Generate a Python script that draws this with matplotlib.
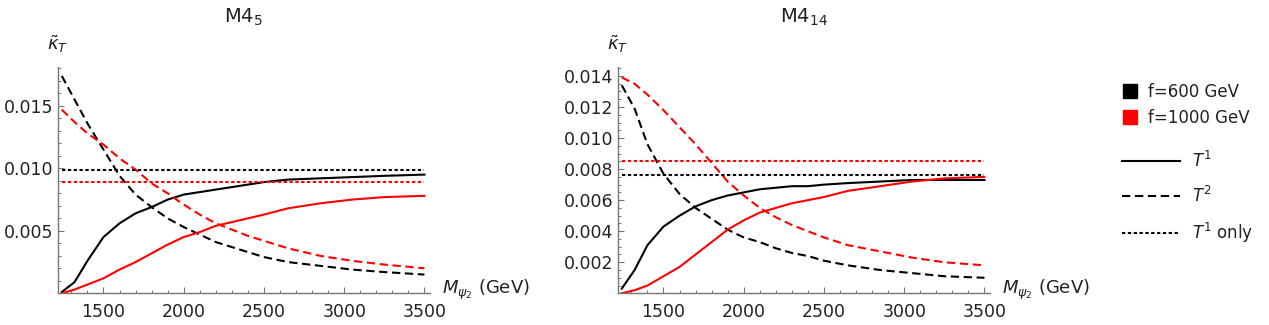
"""
kappa_T tilde vs M_psi2 for the M4_5 and M4_14 models
"""
import matplotlib
matplotlib.use("Agg")
import matplotlib.pyplot as plt
from matplotlib.lines import Line2D
from matplotlib.ticker import MultipleLocator

plt.rcParams['font.family'] = ['DejaVu Sans']
plt.rcParams['mathtext.fontset'] = 'dejavusans'

# mass grid (GeV), shared by both panels
mass = [1240, 1320, 1400, 1500, 1600, 1700, 1800, 1900, 2000, 2100, 2200,
        2300, 2400, 2500, 2650, 2850, 3050, 3250, 3500]

# M4_5 panel
m45_t1_f600 = [0.0001, 0.0009, 0.0026, 0.0045, 0.0056, 0.0064, 0.0069, 0.0075, 0.0079, 0.0081,
               0.0083, 0.0085, 0.0087, 0.0089, 0.0091, 0.0092, 0.0093, 0.0094, 0.0095]
m45_t2_f600 = [0.0174, 0.0155, 0.0136, 0.0115, 0.0094, 0.0079, 0.0069, 0.0060, 0.0053, 0.0047,
               0.0041, 0.0037, 0.0033, 0.0029, 0.0025, 0.0022, 0.0019, 0.0017, 0.0015]
m45_t1_f1000 = [0.0000, 0.0003, 0.0007, 0.0012, 0.0019, 0.0025, 0.0032, 0.0039, 0.0045, 0.0049,
                0.0054, 0.0057, 0.0060, 0.0063, 0.0068, 0.0072, 0.0075, 0.0077, 0.0078]
m45_t2_f1000 = [0.0147, 0.0137, 0.0128, 0.0119, 0.0108, 0.0099, 0.0088, 0.0080, 0.0071, 0.0063,
                0.0056, 0.0051, 0.0046, 0.0042, 0.0036, 0.0030, 0.0026, 0.0023, 0.0020]
m45_only_f600 = 0.0099
m45_only_f1000 = 0.0089

# M4_14 panel
m414_t1_f600 = [0.0003, 0.0015, 0.0031, 0.0043, 0.0050, 0.0056, 0.0060, 0.0063, 0.0065, 0.0067,
                0.0068, 0.0069, 0.0069, 0.0070, 0.0071, 0.0072, 0.0073, 0.0073, 0.0073]
m414_t2_f600 = [0.0134, 0.0119, 0.0096, 0.0077, 0.0064, 0.0055, 0.0048, 0.0041, 0.0036, 0.0033,
                0.0029, 0.0026, 0.0024, 0.0021, 0.0018, 0.0015, 0.0013, 0.0011, 0.0010]
m414_t1_f1000 = [0.0000, 0.0002, 0.0005, 0.0011, 0.0017, 0.0025, 0.0033, 0.0041, 0.0047, 0.0052,
                 0.0055, 0.0058, 0.0060, 0.0062, 0.0066, 0.0069, 0.0072, 0.0074, 0.0075]
m414_t2_f1000 = [0.0139, 0.0135, 0.0128, 0.0118, 0.0107, 0.0096, 0.0084, 0.0072, 0.0063, 0.0055,
                 0.0049, 0.0044, 0.0040, 0.0036, 0.0031, 0.0027, 0.0023, 0.0020, 0.0018]
m414_only_f600 = 0.0076
m414_only_f1000 = 0.0085

x_ticks = [1500, 2000, 2500, 3000, 3500]
m45_yticks = [0.005, 0.010, 0.015]
m414_yticks = [0.002, 0.004, 0.006, 0.008, 0.010, 0.012, 0.014]

RED = '#ff0000'
AXC = '#777777'
TXT = '#222222'
SOLID = '-'
DASH = (0, (4, 2.2))
DOT = (0, (1.6, 1.2))
LW = 1.5

fig = plt.figure(figsize=(12.69, 3.25), dpi=100)
ax1 = fig.add_axes([0.0455, 0.0975, 0.2934, 0.696])
ax2 = fig.add_axes([0.4868, 0.0975, 0.2934, 0.696])


def panel(ax, t1a, t2a, t1b, t2b, onlya, onlyb, yticks, ymax, ymin_step, title):
    ax.plot(mass, t1a, color='black', ls=SOLID, lw=LW)
    ax.plot(mass, t2a, color='black', ls=DASH, lw=LW)
    ax.plot(mass, t1b, color=RED, ls=SOLID, lw=LW)
    ax.plot(mass, t2b, color=RED, ls=DASH, lw=LW)
    ax.hlines(onlya, mass[0], mass[-1], color='black', ls=DOT, lw=LW)
    ax.hlines(onlyb, mass[0], mass[-1], color=RED, ls=DOT, lw=LW)

    ax.set_xlim(1215, 3535)
    ax.set_ylim(0, ymax)
    ax.set_xticks(x_ticks)
    ax.set_yticks(yticks)
    ax.set_yticklabels(['%.3f' % v for v in yticks])
    ax.xaxis.set_minor_locator(MultipleLocator(100))
    ax.yaxis.set_minor_locator(MultipleLocator(ymin_step))
    for s in ['top', 'right']:
        ax.spines[s].set_visible(False)
    for s in ['left', 'bottom']:
        ax.spines[s].set_color(AXC)
        ax.spines[s].set_linewidth(1.0)
    ax.tick_params(which='both', direction='in', color=AXC, labelcolor=TXT,
                   labelsize=12.5)
    ax.tick_params(which='major', length=4.5, width=0.8)
    ax.tick_params(which='minor', length=2.5, width=0.7)
    ax.tick_params(axis='x', pad=7)
    ax.tick_params(axis='y', pad=3)

    ax.text(0.5, 1.22, title, transform=ax.transAxes, ha='center', va='center',
            fontsize=14, color=TXT)
    ax.text(0.0, 1.10, r'$\tilde{\kappa}_T$', transform=ax.transAxes, ha='center',
            va='center', fontsize=13, color=TXT)
    ax.annotate(r'$M_{\psi_2}$ (GeV)', xy=(1.0, 0.0), xycoords='axes fraction',
                xytext=(12, 3), textcoords='offset pixels', ha='left', va='center',
                fontsize=13, color=TXT)


panel(ax1, m45_t1_f600, m45_t2_f600, m45_t1_f1000, m45_t2_f1000,
      m45_only_f600, m45_only_f1000, m45_yticks, 0.0181, 0.001, r'M4$_5$')
panel(ax2, m414_t1_f600, m414_t2_f600, m414_t1_f1000, m414_t2_f1000,
      m414_only_f600, m414_only_f1000, m414_yticks, 0.01457, 0.0005, r'M4$_{14}$')

# legends
color_handles = [Line2D([], [], ls='none', marker='s', markersize=10, color='black'),
                 Line2D([], [], ls='none', marker='s', markersize=10, color=RED)]
leg1 = fig.legend(color_handles, ['f=600 GeV', 'f=1000 GeV'], loc='upper left',
                  bbox_to_anchor=(0.884, 0.745), frameon=False, fontsize=12,
                  handlelength=1.0, handletextpad=0.6, labelspacing=0.5,
                  borderpad=0, borderaxespad=0)
style_handles = [Line2D([], [], color='black', ls=SOLID, lw=LW),
                 Line2D([], [], color='black', ls=DASH, lw=LW),
                 Line2D([], [], color='black', ls=DOT, lw=LW)]
leg2 = fig.legend(style_handles, [r'$T^1$', r'$T^2$', r'$T^1$ only'], loc='upper left',
                  bbox_to_anchor=(0.884, 0.537), frameon=False, fontsize=12,
                  handlelength=3.5, handletextpad=0.7, labelspacing=0.9,
                  borderpad=0, borderaxespad=0)
for lg in (leg1, leg2):
    for t in lg.get_texts():
        t.set_color(TXT)

fig.savefig('out.png', dpi=100)
